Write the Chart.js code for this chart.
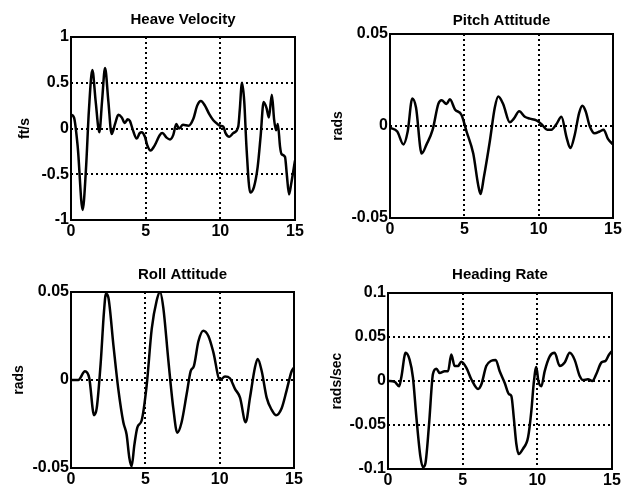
<!DOCTYPE html>
<html>
<head>
<meta charset="utf-8">
<script src="https://cdn.jsdelivr.net/npm/chart.js@4.4.0/dist/chart.umd.min.js"></script>
<style>
  body { margin: 0; background: #fff; }
  #wrap { position: relative; width: 625px; height: 490px; }
  canvas { position: absolute; }
</style>
</head>
<body>
<div id="wrap">
  <canvas id="heave" width="312" height="245" style="left:0;top:0"></canvas>
  <canvas id="pitch" width="313" height="245" style="left:312px;top:0"></canvas>
  <canvas id="roll" width="312" height="245" style="left:0;top:245px"></canvas>
  <canvas id="heading" width="313" height="245" style="left:312px;top:245px"></canvas>
</div>
<script>
// time axis, shared by all four panels
const xTicks = [0, 5, 10, 15];
const xLabels = ["0", "5", "10", "15"];

// heave velocity, ft/s
const heaveT = [0, 0.2, 0.45, 0.78, 1.0, 1.2, 1.43, 1.65, 1.9, 2.08, 2.28, 2.5, 2.72, 2.95, 3.17, 3.4, 3.6, 3.8, 3.95, 4.15, 4.4, 4.6, 4.73, 4.95, 5.1, 5.33, 5.55, 5.74, 5.95, 6.12, 6.4, 6.63, 6.85, 7.05, 7.23, 7.5, 7.86, 8.2, 8.45, 8.7, 8.97, 9.25, 9.53, 9.8, 10.0, 10.2, 10.35, 10.6, 10.87, 11.2, 11.3, 11.45, 11.6, 11.75, 12.0, 12.25, 12.5, 12.7, 12.9, 13.1, 13.25, 13.45, 13.6, 13.73, 13.85, 14.0, 14.1, 14.33, 14.45, 14.6, 14.75, 15.0];
const heaveV = [0.15, 0.12, -0.2, -0.89, -0.45, 0.2, 0.64, 0.3, -0.04, 0.3, 0.66, 0.3, -0.06, 0.05, 0.15, 0.12, 0.06, 0.1, 0.08, -0.02, -0.11, -0.05, -0.04, -0.09, -0.18, -0.24, -0.2, -0.14, -0.07, -0.05, -0.1, -0.12, -0.07, 0.05, 0, 0.04, 0.03, 0.11, 0.25, 0.3, 0.25, 0.16, 0.09, 0.05, 0.03, 0.02, -0.05, -0.09, -0.05, 0.02, 0.2, 0.5, 0.3, -0.2, -0.7, -0.64, -0.42, -0.08, 0.29, 0.22, 0.12, 0.37, 0.1, -0.02, 0.05, -0.2, -0.28, -0.31, -0.5, -0.72, -0.6, -0.35];
const heaveTicks = [-1, -0.5, 0, 0.5, 1];
const heaveLabels = ["-1", "-0.5", "0", "0.5", "1"];

// pitch attitude, rads
const pitchT = [0, 0.49, 0.9, 1.19, 1.5, 1.75, 2.13, 2.46, 2.87, 3.25, 3.47, 3.8, 4.03, 4.37, 4.81, 5.15, 5.6, 5.93, 6.09, 6.31, 6.72, 7.05, 7.28, 7.61, 8.06, 8.33, 8.69, 9.07, 9.4, 9.85, 10.19, 10.57, 10.86, 11.19, 11.53, 11.87, 12.13, 12.42, 12.72, 12.94, 13.16, 13.43, 13.77, 14.1, 14.37, 14.66, 15.0];
const pitchV = [-0.001, -0.003, -0.01, -0.003, 0.015, 0.01, -0.015, -0.01, -0.002, 0.012, 0.014, 0.012, 0.0145, 0.009, 0.006, -0.003, -0.015, -0.032, -0.037, -0.028, -0.008, 0.01, 0.016, 0.012, 0.002, 0.004, 0.008, 0.005, 0.004, 0.003, 0.001, -0.002, -0.002, 0.001, 0.005, -0.006, -0.012, -0.005, 0.007, 0.011, 0.008, 0, -0.004, -0.003, -0.002, -0.007, -0.01];
const pitchTicks = [-0.05, 0, 0.05];
const pitchLabels = ["-0.05", "0", "0.05"];

// roll attitude, rads
const rollT = [0, 0.49, 0.94, 1.23, 1.55, 1.73, 2.0, 2.22, 2.35, 2.51, 2.85, 3.18, 3.52, 3.74, 3.92, 4.08, 4.26, 4.46, 4.75, 5.09, 5.43, 5.76, 5.99, 6.21, 6.55, 6.88, 7.15, 7.44, 7.78, 8.05, 8.27, 8.57, 8.9, 9.24, 9.57, 10.02, 10.36, 10.69, 11.03, 11.37, 11.75, 12.04, 12.37, 12.56, 12.83, 13.16, 13.5, 13.79, 14.17, 14.5, 14.84, 15.0];
const rollV = [0, 0, 0.005, 0.001, -0.02, -0.016, 0.01, 0.039, 0.049, 0.047, 0.02, -0.005, -0.024, -0.031, -0.044, -0.049, -0.037, -0.027, -0.023, -0.003, 0.029, 0.045, 0.05, 0.041, 0.011, -0.016, -0.03, -0.024, -0.008, 0.005, 0.008, 0.022, 0.028, 0.025, 0.016, 0, 0.002, 0.001, -0.005, -0.01, -0.024, -0.01, 0.007, 0.012, 0.005, -0.01, -0.017, -0.02, -0.016, -0.006, 0.005, 0.007];
const rollTicks = [-0.05, 0, 0.05];
const rollLabels = ["-0.05", "0", "0.05"];

// heading rate, rads/sec
const headingT = [0, 0.45, 0.74, 0.89, 1.18, 1.45, 1.67, 1.9, 2.17, 2.34, 2.5, 2.75, 3.01, 3.24, 3.46, 3.79, 4.02, 4.24, 4.46, 4.69, 4.91, 5.25, 5.58, 6.03, 6.25, 6.58, 6.92, 7.21, 7.48, 7.81, 8.1, 8.26, 8.42, 8.59, 8.75, 9.04, 9.38, 9.6, 9.75, 9.93, 10.07, 10.27, 10.49, 10.83, 11.16, 11.5, 11.83, 12.17, 12.5, 12.83, 13.06, 13.39, 13.68, 13.95, 14.29, 14.58, 14.8, 15.0];
const headingV = [0, -0.001, -0.006, 0.004, 0.032, 0.024, 0.004, -0.041, -0.086, -0.098, -0.094, -0.049, 0.008, 0.014, 0.009, 0.011, 0.011, 0.03, 0.017, 0.017, 0.022, 0.015, 0.002, -0.009, -0.004, 0.017, 0.023, 0.024, 0.011, -0.002, -0.015, -0.017, -0.041, -0.071, -0.083, -0.077, -0.064, -0.034, -0.004, 0.016, 0, -0.006, 0.011, 0.028, 0.032, 0.017, 0.021, 0.032, 0.024, 0.006, 0.001, 0.002, 0, 0.008, 0.021, 0.023, 0.03, 0.034];
const headingTicks = [-0.1, -0.05, 0, 0.05, 0.1];
const headingLabels = ["-0.1", "-0.05", "0", "0.05", "0.1"];

const fontName = "'Liberation Sans', Arial, sans-serif";

const boxPlugin = {
  id: "box",
  afterDatasetsDraw(chart) {
    const { ctx, chartArea: a } = chart;
    ctx.save();
    ctx.strokeStyle = "#000";
    ctx.lineWidth = 2;
    ctx.strokeRect(a.left, a.top, a.right - a.left, a.bottom - a.top);
    ctx.restore();
  },
};

const makeChart = (id, title, unit, xs, ys, yTicks, yLabels, lay) => {
  const points = xs.map((x, i) => ({ x: x, y: ys[i] }));
  return new Chart(document.getElementById(id), {
    type: "line",
    data: {
      datasets: [
        {
          data: points,
          borderColor: "#000",
          borderWidth: 2.5,
          pointRadius: 0,
          cubicInterpolationMode: "monotone",
        },
      ],
    },
    options: {
      responsive: false,
      animation: false,
      devicePixelRatio: 1,
      layout: { padding: { left: 0, right: lay.right, top: 0, bottom: 0 } },
      plugins: {
        legend: { display: false },
        tooltip: { enabled: false },
        title: {
          display: true,
          fullSize: false,
          text: title,
          color: "#000",
          font: { family: fontName, size: 15, weight: "bold" },
          padding: { top: lay.titleTop, bottom: lay.titleBottom },
        },
      },
      scales: {
        x: {
          type: "linear",
          min: 0,
          max: 15,
          afterBuildTicks: (s) => {
            s.ticks = xTicks.map((v) => ({ value: v }));
          },
          afterFit: (s) => {
            s.height = lay.xh;
            s.paddingLeft = 0;
            s.paddingRight = 0;
          },
          grid: { color: "#000", lineWidth: 2, drawTicks: false },
          border: { display: false, dash: [2, 3] },
          ticks: {
            color: "#000",
            padding: 2,
            maxRotation: 0,
            autoSkip: false,
            font: { family: fontName, size: 16, weight: "bold" },
            callback: (v, i) => xLabels[i],
          },
        },
        y: {
          type: "linear",
          min: yTicks[0],
          max: yTicks[yTicks.length - 1],
          afterBuildTicks: (s) => {
            s.ticks = yTicks.map((v) => ({ value: v }));
          },
          afterFit: (s) => {
            s.width = lay.yw;
            s.paddingTop = 0;
            s.paddingBottom = 0;
          },
          grid: { color: "#000", lineWidth: 2, drawTicks: false },
          border: { display: false, dash: [2, 3] },
          ticks: {
            color: "#000",
            padding: 2,
            autoSkip: false,
            font: { family: fontName, size: 16, weight: "bold" },
            callback: (v, i) => yLabels[i],
          },
          title: {
            display: true,
            text: unit,
            color: "#000",
            font: { family: fontName, size: 14, weight: "bold" },
            padding: { top: lay.unitPad, bottom: 0 },
          },
        },
      },
    },
    plugins: [boxPlugin],
  });
};

makeChart("heave", "Heave Velocity", "ft/s", heaveT, heaveV, heaveTicks, heaveLabels,
  { right: 17, xh: 25, yw: 71, titleTop: 10.5, titleBottom: 8.5, unitPad: 16.6 });
makeChart("pitch", "Pitch Attitude", "rads", pitchT, pitchV, pitchTicks, pitchLabels,
  { right: 12, xh: 27, yw: 78, titleTop: 12, titleBottom: 4, unitPad: 17.6 });
makeChart("roll", "Roll Attitude", "rads", rollT, rollV, rollTicks, rollLabels,
  { right: 18, xh: 22, yw: 71, titleTop: 21, titleBottom: 8, unitPad: 10.6 });
makeChart("heading", "Heading Rate", "rads/sec", headingT, headingV, headingTicks, headingLabels,
  { right: 13, xh: 21, yw: 76, titleTop: 21, titleBottom: 9, unitPad: 16.6 });
</script>
</body>
</html>
